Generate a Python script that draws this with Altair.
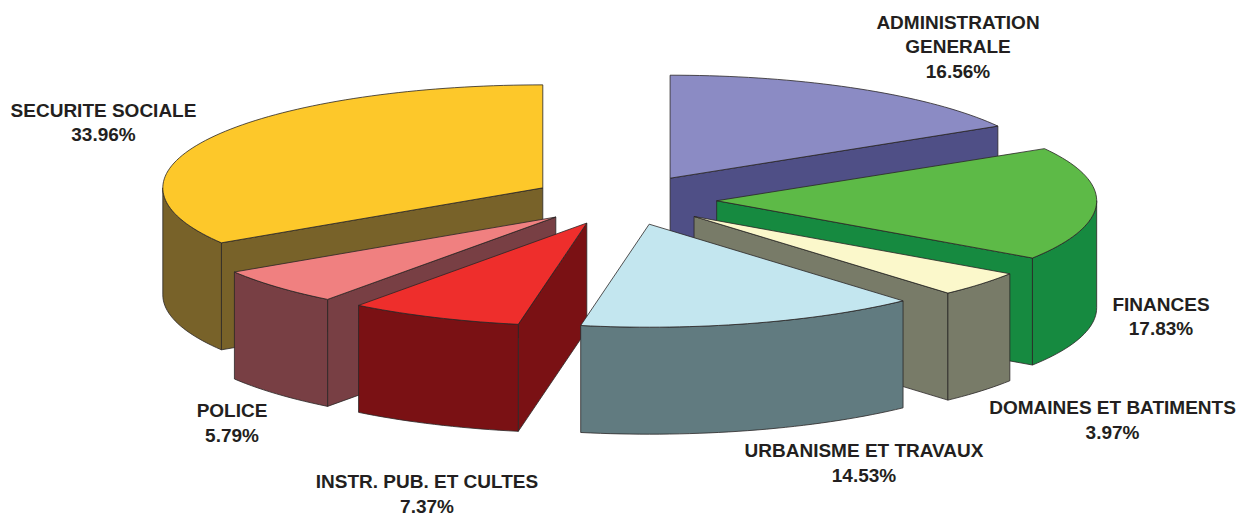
import numpy as np
import pandas as pd
import altair as alt

# ---------------- data ----------------
categories = ["ADMINISTRATION GENERALE", "FINANCES", "DOMAINES ET BATIMENTS",
              "URBANISME ET TRAVAUX", "INSTR. PUB. ET CULTES", "POLICE",
              "SECURITE SOCIALE"]
label_names = ["ADMINISTRATION\nGENERALE", "FINANCES", "DOMAINES ET BATIMENTS",
               "URBANISME ET TRAVAUX", "INSTR. PUB. ET CULTES", "POLICE",
               "SECURITE SOCIALE"]
shares = [16.56, 17.83, 3.97, 14.53, 7.37, 5.79, 33.96]

# ---------------- styles ----------------
top_colors = ["#8B8BC4", "#5DBA47", "#FBF8CB", "#C3E6EF", "#EE2E2C", "#F08080", "#FDC82A"]
side_colors = ["#4F4F86", "#168A40", "#787B68", "#617B80", "#7A1114", "#783F44", "#786229"]
label_x = [958, 1161, 1112.5, 864, 427, 232, 103.5]
label_y = [22.5, 304.5, 408, 451, 482, 411, 110.5]   # centre of first line

# ---------------- layout of the 3D pie ----------------
CX, CY = 624.0, 200.0      # pie centre
RX, RY = 380.0, 103.0      # ellipse radii of the top face
DEPTH = 107.0              # thickness
EXPLODE = 0.244            # explode fraction
W, H = 1228, 507

total = sum(shares)
ends = np.cumsum(shares) / total * 360.0
starts = np.concatenate([[0.0], ends[:-1]])


def centre(k):
    m = np.radians((starts[k] + ends[k]) / 2)
    return CX + EXPLODE * RX * np.sin(m), CY - EXPLODE * RY * np.cos(m)


def rim(k, deg, down=0.0):
    cx, cy = centre(k)
    t = np.radians(deg)
    return cx + RX * np.sin(t), cy - RY * np.cos(t) + down


def arc(k, a, b, down=0.0):
    n = max(3, int(abs(b - a) / 1.5) + 2)
    return [rim(k, d, down) for d in np.linspace(a, b, n)]


rows = []
faces = []   # (face id, fill)
order_slices = sorted(range(len(shares)), key=lambda k: centre(k)[1])
fid = 0
for k in order_slices:
    a, b = starts[k], ends[k]
    cx, cy = centre(k)
    polys = []
    # radial faces
    if np.sin(np.radians(a)) < -1e-9:
        p = rim(k, a)
        polys.append(([(cx, cy), p, (p[0], p[1] + DEPTH), (cx, cy + DEPTH)], side_colors[k]))
    if np.sin(np.radians(b)) > 1e-9:
        p = rim(k, b)
        polys.append(([(cx, cy), p, (p[0], p[1] + DEPTH), (cx, cy + DEPTH)], side_colors[k]))
    # outer wall (front half)
    lo, hi = max(a, 90.0), min(b, 270.0)
    if hi > lo:
        pts = arc(k, lo, hi) + arc(k, hi, lo, DEPTH)
        polys.append((pts, side_colors[k]))
    # top face
    polys.append(([(cx, cy)] + arc(k, a, b), top_colors[k]))
    for pts, col in polys:
        pts = pts + [pts[0]]
        for i, (x, y) in enumerate(pts):
            rows.append({"face": fid, "i": i, "x": x, "y": y, "slice": categories[k]})
        faces.append((fid, col))
        fid += 1

geo = pd.DataFrame(rows)

xs = alt.X("x:Q", scale=alt.Scale(domain=[8, 8 + W], nice=False, zero=False), axis=None)
ys = alt.Y("y:Q", scale=alt.Scale(domain=[8, 8 + H], nice=False, zero=False, reverse=True), axis=None)

base = alt.Chart(geo)
layers = []
for f, col in faces:
    layers.append(
        base.transform_filter(alt.datum.face == f)
        .mark_line(fill=col, stroke="#2a2626", strokeWidth=0.8, strokeJoin="round")
        .encode(x=xs, y=ys, order=alt.Order("i:Q"))
    )

labels = pd.DataFrame({
    "text": [f"{n}\n{v:.2f}%" for n, v in zip(label_names, shares)],
    "x": label_x,
    "y": label_y,
})
text = alt.Chart(labels).mark_text(
    font="Liberation Sans", fontWeight="bold", fontSize=19, color="#231F20",
    lineBreak="\n", lineHeight=24.5, baseline="middle", align="center"
).encode(x=xs, y=ys, text="text:N")

chart = alt.layer(*layers, text).properties(
    width=W, height=H, padding=0, autosize="none"
).configure_view(stroke=None)

chart.save("out.html", embed_options={"renderer": "svg", "actions": False})
